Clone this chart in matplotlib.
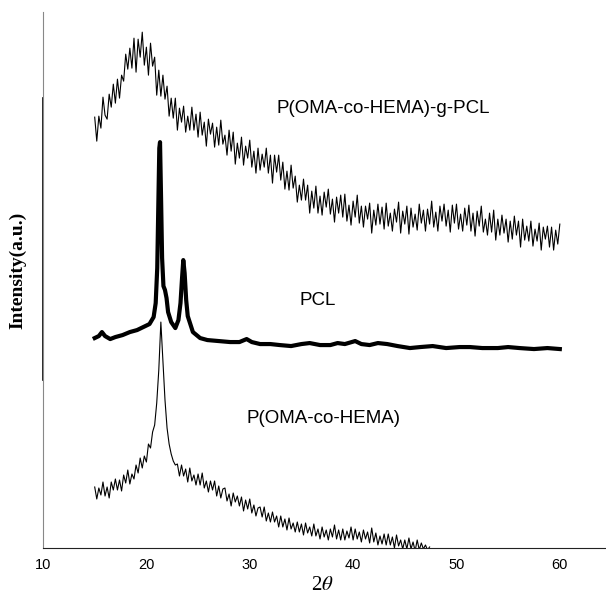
import numpy as np
import matplotlib
matplotlib.use('Agg')
import matplotlib.pyplot as plt

# P(OMA-co-HEMA)-g-PCL, read every 0.2 deg from 15 to 60
graft_y = [431, 407, 432, 420, 451, 433, 429, 454, 441, 464,
           445, 469, 450, 473, 467, 494, 479, 500, 480, 510,
           476, 509, 491, 516, 483, 501, 473, 505, 482, 491,
           453, 478, 452, 473, 449, 462, 432, 450, 430, 450,
           418, 440, 426, 442, 416, 432, 418, 441, 418, 434,
           411, 436, 413, 426, 402, 429, 414, 425, 401, 421,
           403, 428, 404, 413, 393, 418, 397, 416, 384, 405,
           390, 411, 383, 402, 390, 408, 381, 397, 375, 400,
           378, 394, 381, 400, 375, 393, 365, 393, 376, 393,
           368, 386, 359, 377, 358, 383, 360, 372, 346, 363,
           348, 369, 348, 363, 335, 357, 340, 362, 335, 352,
           333, 356, 341, 359, 334, 349, 326, 351, 335, 353,
           331, 354, 327, 343, 323, 347, 331, 353, 325, 342,
           321, 342, 329, 345, 315, 338, 323, 344, 324, 341,
           319, 345, 322, 335, 317, 339, 326, 346, 315, 337,
           324, 342, 314, 340, 321, 334, 318, 344, 325, 338,
           317, 339, 324, 347, 321, 336, 317, 342, 327, 344,
           322, 338, 316, 343, 325, 344, 319, 334, 317, 340,
           323, 343, 317, 335, 312, 337, 322, 342, 316, 329,
           313, 335, 316, 338, 308, 329, 313, 333, 315, 329,
           306, 327, 309, 332, 313, 327, 301, 329, 308, 322,
           307, 327, 302, 319, 307, 325, 298, 321, 309, 322,
           301, 321, 298, 318, 304, 324]
graft_x = np.linspace(15, 60, len(graft_y))

# PCL
pcl_x = [15.0, 15.4, 15.7, 16.0, 16.5, 17.0, 17.7, 18.4, 19.1, 19.7, 20.3, 20.7,
         20.9, 21.05, 21.15, 21.25, 21.32, 21.42, 21.52, 21.65, 21.8, 21.95, 22.1,
         22.4, 22.8, 23.1, 23.3, 23.45, 23.57, 23.7, 23.85, 24.0, 24.5, 25.2, 25.9,
         27.0, 28.1, 29.0, 29.7, 30.2, 31.0, 32.0, 32.9, 34.0, 35.0, 35.8, 36.8,
         37.8, 38.5, 39.2, 40.2, 40.8, 41.6, 42.4, 43.3, 44.3, 45.5, 46.5, 47.7,
         49.0, 50.3, 51.3, 52.5, 54.0, 55.0, 56.1, 57.5, 58.8, 60.0]
pcl_y = [210, 212, 216, 212, 209, 211, 213, 216, 218, 221, 224, 231,
         245, 280, 340, 400, 406, 350, 290, 262, 258, 250, 236,
         226, 220, 228, 245, 270, 288, 275, 248, 232, 216, 210, 208,
         207, 206, 206, 209, 206, 204, 204, 203, 202, 204, 205, 203,
         203, 205, 204, 207, 204, 203, 205, 204, 202, 200, 201, 202,
         200, 201, 201, 200, 200, 201, 200, 199, 200, 199]

# P(OMA-co-HEMA), read every 0.2 deg from 15 to 47.4
copo_y = [61, 49, 60, 53, 66, 52, 61, 50, 66, 58,
          69, 58, 68, 57, 73, 65, 78, 64, 74, 69,
          83, 75, 90, 80, 92, 86, 104, 100, 116, 123,
          145, 178, 226, 188, 148, 120, 104, 94, 87, 83,
          84, 72, 83, 72, 79, 66, 80, 67, 73, 63,
          74, 63, 75, 60, 67, 56, 67, 58, 67, 52,
          62, 50, 59, 60, 47, 54, 42, 55, 46, 52,
          42, 51, 37, 48, 39, 49, 35, 43, 32, 40,
          41, 31, 41, 27, 35, 26, 36, 26, 32, 21,
          32, 21, 29, 18, 30, 19, 25, 16, 26, 16,
          24, 13, 25, 15, 21, 12, 24, 12, 19, 9,
          21, 11, 18, 8, 19, 11, 23, 9, 18, 8,
          19, 8, 17, 10, 21, 8, 19, 9, 16, 6,
          18, 9, 16, 5, 20, 6, 15, 3, 12, 4,
          14, 3, 14, 3, 11, 0, 13, 2, 8, -1,
          8, -1, 10, -1, 6, -3, 8, -2, 5, -1,
          3, -2, 1]
copo_x = np.linspace(15, 47.4, len(copo_y))

xticks = [10, 20, 30, 40, 50, 60]

plt.rcParams['mathtext.fontset'] = 'stix'

fig = plt.figure(figsize=(6.06, 6.0), dpi=100)
ax = fig.add_axes([0.071, 0.0867, 0.927, 0.893])

ax.plot(graft_x, graft_y, color='black', lw=0.8)
ax.plot(pcl_x, pcl_y, color='black', lw=3.0, solid_joinstyle='round')
ax.plot(copo_x, copo_y, color='black', lw=0.8)

ax.text(32.6, 440, 'P(OMA-co-HEMA)-g-PCL', fontsize=13.5, family='Liberation Sans', va='center')
ax.text(34.8, 248, 'PCL', fontsize=13.5, family='Liberation Sans', va='center')
ax.text(29.7, 130, 'P(OMA-co-HEMA)', fontsize=13.5, family='Liberation Sans', va='center')

ax.set_xlim(10, 64.35)
ax.set_ylim(0, 536)
ax.set_xticks(xticks)
ax.set_xticklabels([str(t) for t in xticks], family='Liberation Sans', fontsize=10.5)
ax.tick_params(axis='x', length=0, pad=7)
ax.set_yticks([])

for s in ['top', 'right']:
    ax.spines[s].set_visible(False)
ax.spines['bottom'].set_color('#222222')
ax.spines['left'].set_color('#888888')
# darker middle part of the left axis line
ax.plot([10, 10], [168, 450], color='black', lw=1.2, clip_on=False)

fig.text(18/606, 1 - 270/600, 'Intensity(a.u.)', rotation=90, ha='center', va='center',
         family='Liberation Serif', fontweight='bold', fontsize=14)
fig.text(322/606, 1 - 586/600, r'2$\theta$', ha='center', va='center',
         family='Liberation Serif', fontsize=15)

plt.savefig('out.png', dpi=100)
